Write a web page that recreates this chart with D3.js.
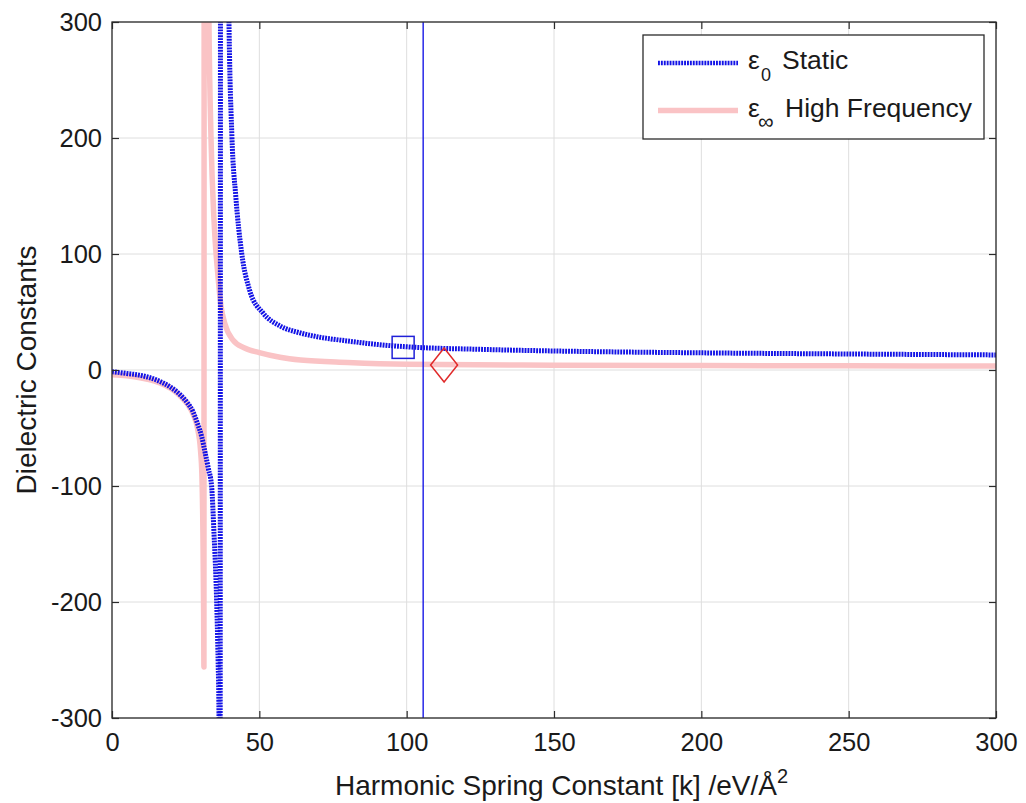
<!DOCTYPE html>
<html>
<head>
<meta charset="utf-8">
<script src="https://cdn.jsdelivr.net/npm/d3@7"></script>
<style>
  body { margin: 0; background: #ffffff; }
  svg { display: block; }
  text { font-family: "Liberation Sans", Arial, sans-serif; fill: #1a1a1a; }
</style>
</head>
<body>
<svg id="chart" width="1026" height="803"></svg>
<script>
// Axis ticks
const xTicks = [0, 50, 100, 150, 200, 250, 300];
const yTicks = [-300, -200, -100, 0, 100, 200, 300];

// Static dielectric constant ε0 vs spring constant k (eV/Å²)
const staticK   = [0, 5, 10, 15, 20, 23, 25.5, 27.5, 29, 30.5, 31.5, 32.7, 33.8, 34.6, 35.5, 36.0, 36.3, 36.6, 37.0, 38.6, 39.7, 40.7, 42, 44, 46.8, 51.3, 57, 63.8, 70, 80, 90, 100, 125, 150, 200, 250, 300];
const staticEps = [-1.5, -3, -4.8, -8.5, -15, -21, -28, -36, -46, -58, -70, -85, -100, -140, -198, -250, -296, -700, 1200, 600, 300, 201, 150, 101, 68, 49, 38, 32, 28.5, 25, 22, 20, 17.8, 16.4, 14.8, 13.8, 13];

// High-frequency dielectric constant ε∞ vs k
const highK   = [0, 5, 10, 15, 20, 23, 25.5, 27.5, 29, 30, 30.5, 30.9, 31.1, 31.2, 31.4, 32.2, 32.9, 33.6, 34.6, 36, 37, 38.3, 41, 45, 50, 57, 64, 80, 100, 150, 200, 250, 300];
const highEps = [-4, -5, -7, -10, -16, -22, -29, -38, -50, -68, -90, -150, -210, -256, 1500, 550, 300, 200, 130, 80, 55, 40, 26, 19, 15, 11, 8.6, 6.5, 5, 4.2, 3.8, 3.6, 3.4];

// Reference line and point markers
const refLineK = 105.6;
const squarePt = { k: 98.8, eps: 19.5 };
const diamondPt = { k: 112.7, eps: 4.3 };

// Legend entries
const legendLabels = [
  { sym: "ε", sub: "0", text: "Static" },
  { sym: "ε", sub: "∞", text: "High Frequency" }
];

(function draw() {
  const svg = d3.select("#chart");
  const pL = 112, pR = 996, pT = 22, pB = 718;
  const W = pR - pL, H = pB - pT;

  const x = d3.scaleLinear().domain([0, 300]).range([pL, pR]);
  const y = d3.scaleLinear().domain([-300, 300]).range([pB, pT]);

  const axisColor = "#2b2b2b";

  // Grid
  const grid = svg.append("g");
  grid.selectAll("line.gx").data(xTicks).join("line").attr("class", "gx")
    .attr("x1", d => x(d)).attr("x2", d => x(d))
    .attr("y1", pT).attr("y2", pB)
    .attr("stroke", "#dedede").attr("stroke-width", 1);
  grid.selectAll("line.gy").data(yTicks).join("line").attr("class", "gy")
    .attr("x1", pL).attr("x2", pR)
    .attr("y1", d => y(d)).attr("y2", d => y(d))
    .attr("stroke", "#dedede").attr("stroke-width", 1);

  // Clip to the plot box
  svg.append("defs").append("clipPath").attr("id", "plotClip")
    .append("rect").attr("x", pL).attr("y", pT).attr("width", W).attr("height", H);

  const line = d3.line()
    .x(d => x(d[0])).y(d => y(d[1]))
    .curve(d3.curveMonotoneX);

  const plot = svg.append("g").attr("clip-path", "url(#plotClip)");

  const highData = highK.map((k, i) => [k, highEps[i]]);
  const staticData = staticK.map((k, i) => [k, staticEps[i]]);

  plot.append("path").datum(highData)
    .attr("d", line)
    .attr("fill", "none")
    .attr("stroke", "#fac3c5")
    .attr("stroke-width", 5.5)
    .attr("stroke-linejoin", "round");

  plot.append("path").datum(staticData)
    .attr("d", line)
    .attr("fill", "none")
    .attr("stroke", "#1212e6")
    .attr("stroke-width", 5)
    .attr("stroke-dasharray", "1.9,1");

  // Vertical reference line
  plot.append("line")
    .attr("x1", x(refLineK)).attr("x2", x(refLineK))
    .attr("y1", pT).attr("y2", pB)
    .attr("stroke", "#1a1ae6").attr("stroke-width", 1.4);

  // Square marker on ε0
  const sq = 22;
  plot.append("rect")
    .attr("x", x(squarePt.k) - sq / 2).attr("y", y(squarePt.eps) - sq / 2)
    .attr("width", sq).attr("height", sq)
    .attr("fill", "none").attr("stroke", "#2020d8").attr("stroke-width", 1.5);

  // Diamond marker on ε∞
  const hx = 13.5, hy = 17;
  const cx = x(diamondPt.k), cy = y(diamondPt.eps);
  plot.append("path")
    .attr("d", `M${cx},${cy - hy}L${cx + hx},${cy}L${cx},${cy + hy}L${cx - hx},${cy}Z`)
    .attr("fill", "none").attr("stroke", "#e02a2a").attr("stroke-width", 1.5);

  // Axes with inward ticks on all four sides
  const fmt = d => String(d);
  const gB = svg.append("g").attr("transform", `translate(0,${pB})`)
    .call(d3.axisBottom(x).tickValues(xTicks).tickSize(-7).tickPadding(15).tickFormat(fmt));
  const gT = svg.append("g").attr("transform", `translate(0,${pT})`)
    .call(d3.axisTop(x).tickValues(xTicks).tickSize(-7).tickFormat(""));
  const gL = svg.append("g").attr("transform", `translate(${pL},0)`)
    .call(d3.axisLeft(y).tickValues(yTicks).tickSize(-7).tickPadding(10).tickFormat(fmt));
  const gR = svg.append("g").attr("transform", `translate(${pR},0)`)
    .call(d3.axisRight(y).tickValues(yTicks).tickSize(-7).tickFormat(""));

  [gB, gT, gL, gR].forEach(g => {
    g.select(".domain").remove();
    g.selectAll(".tick line").attr("stroke", axisColor).attr("stroke-width", 1.2);
    g.selectAll(".tick text")
      .attr("font-family", "'Liberation Sans', Arial, sans-serif")
      .attr("font-size", 25.5).attr("fill", "#1a1a1a");
  });
  gB.selectAll(".tick text").attr("dy", "0.71em");
  gL.selectAll(".tick text").attr("dy", "0.35em");

  // Box
  svg.append("rect")
    .attr("x", pL).attr("y", pT).attr("width", W).attr("height", H)
    .attr("fill", "none").attr("stroke", axisColor).attr("stroke-width", 1.3);

  // Axis titles
  const xt = svg.append("text")
    .attr("x", 335).attr("y", 795)
    .attr("font-size", 28);
  xt.append("tspan").text("Harmonic Spring Constant [k] /eV/Å");
  xt.append("tspan").attr("font-size", 20).attr("dy", -12).text("2");

  svg.append("text")
    .attr("transform", `translate(36,${(pT + pB) / 2}) rotate(-90)`)
    .attr("text-anchor", "middle")
    .attr("font-size", 28)
    .text("Dielectric Constants");

  // Legend
  const lg = svg.append("g");
  lg.append("rect")
    .attr("x", 643).attr("y", 35).attr("width", 341).attr("height", 104)
    .attr("fill", "#ffffff").attr("stroke", axisColor).attr("stroke-width", 1.3);

  lg.append("line")
    .attr("x1", 658).attr("x2", 738).attr("y1", 63).attr("y2", 63)
    .attr("stroke", "#1212e6").attr("stroke-width", 4.5)
    .attr("stroke-dasharray", "1.9,1");
  lg.append("line")
    .attr("x1", 658).attr("x2", 738).attr("y1", 110.5).attr("y2", 110.5)
    .attr("stroke", "#fac3c5").attr("stroke-width", 5.5);

  const rowY = [69, 117];
  const subSize = [18, 22];
  legendLabels.forEach((d, i) => {
    const t = lg.append("text").attr("y", rowY[i]).attr("font-size", 26.5);
    t.append("tspan").attr("x", 748).text(d.sym);
    t.append("tspan").attr("x", i === 0 ? 761 : 758).attr("dy", 12).attr("font-size", subSize[i]).text(d.sub);
    t.append("tspan").attr("x", i === 0 ? 782 : 785).attr("dy", -12).text(d.text);
  });
})();
</script>
</body>
</html>
